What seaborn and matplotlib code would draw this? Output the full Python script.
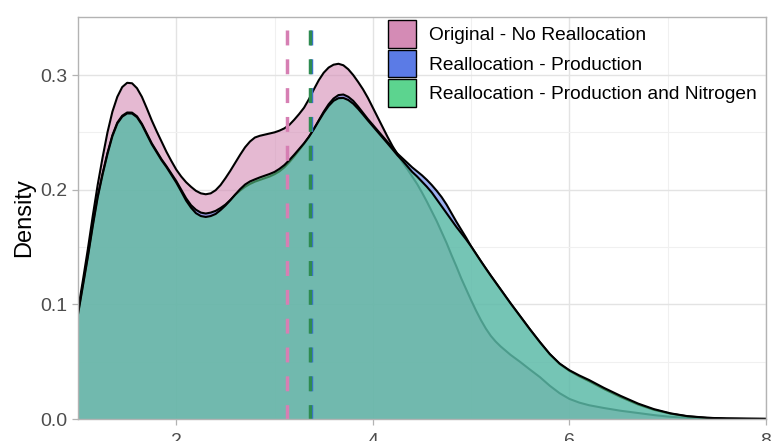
import numpy as np
import pandas as pd
import matplotlib
matplotlib.use("Agg")
import matplotlib.pyplot as plt
from matplotlib.patches import Patch
import seaborn as sns

# ---- data (density estimates on a common x grid) ----
x_grid = [1.00, 1.05, 1.10, 1.15, 1.20, 1.25, 1.30, 1.35, 1.40, 1.45, 1.50, 1.55,
          1.60, 1.65, 1.70, 1.75, 1.80, 1.85, 1.90, 1.95, 2.00, 2.05, 2.10, 2.15,
          2.20, 2.25, 2.30, 2.35, 2.40, 2.45, 2.50, 2.55, 2.60, 2.65, 2.70, 2.75,
          2.80, 2.85, 2.90, 2.95, 3.00, 3.05, 3.10, 3.15, 3.20, 3.25, 3.30, 3.35,
          3.40, 3.45, 3.50, 3.55, 3.60, 3.65, 3.70, 3.75, 3.80, 3.85, 3.90, 3.95,
          4.00, 4.05, 4.10, 4.15, 4.20, 4.25, 4.30, 4.35, 4.40, 4.45, 4.50, 4.55,
          4.60, 4.65, 4.70, 4.75, 4.80, 4.85, 4.90, 4.95, 5.00, 5.05, 5.10, 5.15,
          5.20, 5.25, 5.30, 5.40, 5.50, 5.60, 5.70, 5.80, 5.90, 6.00, 6.10, 6.20,
          6.35, 6.52, 6.70, 6.86, 7.03, 7.20, 7.40, 7.60, 7.80, 8.00]

dens_original = [
    0.0950, 0.1210, 0.1480, 0.1770, 0.2040, 0.2280, 0.2500, 0.2680, 0.2810, 0.2895,
    0.2932, 0.2928, 0.2885, 0.2810, 0.2710, 0.2605, 0.2510, 0.2420, 0.2330, 0.2250,
    0.2175, 0.2115, 0.2065, 0.2025, 0.1990, 0.1968, 0.1960, 0.1968, 0.1995, 0.2040,
    0.2100, 0.2165, 0.2235, 0.2305, 0.2370, 0.2420, 0.2455, 0.2470, 0.2480, 0.2490,
    0.2500, 0.2515, 0.2535, 0.2565, 0.2610, 0.2660, 0.2715, 0.2790, 0.2875, 0.2955,
    0.3020, 0.3065, 0.3090, 0.3098, 0.3085, 0.3050, 0.3000, 0.2940, 0.2875, 0.2800,
    0.2715, 0.2630, 0.2545, 0.2460, 0.2380, 0.2310, 0.2240, 0.2180, 0.2115, 0.2050,
    0.1975, 0.1895, 0.1810, 0.1725, 0.1630, 0.1535, 0.1430, 0.1330, 0.1225, 0.1130,
    0.1035, 0.0945, 0.0862, 0.0788, 0.0725, 0.0675, 0.0633, 0.0560, 0.0497, 0.0430,
    0.0365, 0.0290, 0.0225, 0.0175, 0.0143, 0.0120, 0.0096, 0.0072, 0.0052, 0.0034,
    0.0019, 0.0010, 0.0004, 0.0002, 0.0001, 0.0000]

dens_production = [
    0.0920, 0.1170, 0.1420, 0.1690, 0.1940, 0.2140, 0.2320, 0.2475, 0.2585, 0.2645,
    0.2673, 0.2672, 0.2640, 0.2575, 0.2490, 0.2405, 0.2335, 0.2265, 0.2205, 0.2140,
    0.2075, 0.2000, 0.1925, 0.1865, 0.1825, 0.1800, 0.1792, 0.1800, 0.1815, 0.1840,
    0.1870, 0.1910, 0.1955, 0.1993, 0.2025, 0.2050, 0.2070, 0.2085, 0.2100, 0.2115,
    0.2135, 0.2160, 0.2195, 0.2240, 0.2290, 0.2345, 0.2400, 0.2460, 0.2530, 0.2605,
    0.2680, 0.2745, 0.2795, 0.2825, 0.2830, 0.2810, 0.2775, 0.2725, 0.2670, 0.2615,
    0.2565, 0.2515, 0.2465, 0.2415, 0.2365, 0.2315, 0.2275, 0.2235, 0.2195, 0.2160,
    0.2125, 0.2085, 0.2040, 0.1990, 0.1935, 0.1870, 0.1795, 0.1720, 0.1650, 0.1580,
    0.1505, 0.1440, 0.1375, 0.1312, 0.1250, 0.1190, 0.1130, 0.1010, 0.0895, 0.0780,
    0.0670, 0.0565, 0.0480, 0.0420, 0.0372, 0.0330, 0.0262, 0.0192, 0.0126, 0.0080,
    0.0046, 0.0023, 0.0010, 0.0004, 0.0002, 0.0001]

dens_prod_nitrogen = [
    0.0912, 0.1162, 0.1412, 0.1682, 0.1932, 0.2132, 0.2312, 0.2467, 0.2577, 0.2637,
    0.2665, 0.2664, 0.2632, 0.2567, 0.2482, 0.2397, 0.2327, 0.2257, 0.2197, 0.2130,
    0.2062, 0.1985, 0.1905, 0.1843, 0.1795, 0.1770, 0.1762, 0.1770, 0.1788, 0.1822,
    0.1862, 0.1908, 0.1958, 0.2005, 0.2045, 0.2072, 0.2090, 0.2107, 0.2122, 0.2137,
    0.2155, 0.2182, 0.2215, 0.2258, 0.2305, 0.2355, 0.2405, 0.2462, 0.2528, 0.2600,
    0.2670, 0.2730, 0.2775, 0.2798, 0.2800, 0.2782, 0.2750, 0.2705, 0.2655, 0.2603,
    0.2553, 0.2503, 0.2453, 0.2403, 0.2352, 0.2300, 0.2255, 0.2205, 0.2155, 0.2115,
    0.2070, 0.2025, 0.1975, 0.1915, 0.1855, 0.1795, 0.1735, 0.1675, 0.1620, 0.1565,
    0.1505, 0.1440, 0.1375, 0.1312, 0.1250, 0.1190, 0.1130, 0.1010, 0.0895, 0.0780,
    0.0670, 0.0567, 0.0484, 0.0425, 0.0380, 0.0340, 0.0272, 0.0202, 0.0134, 0.0086,
    0.0049, 0.0025, 0.0011, 0.0004, 0.0002, 0.0001]

series_labels = ["Original - No Reallocation",
                 "Reallocation - Production",
                 "Reallocation - Production and Nitrogen"]
series_means = [3.13, 3.375, 3.365]

x_ticks = [2, 4, 6, 8]
y_ticks = [0.0, 0.1, 0.2, 0.3]
y_tick_labels = ["0.0", "0.1", "0.2", "0.3"]

# ---- styling ----
fill_colors = ["#d48bb5", "#5b7be6", "#5cd48f"]
mean_colors = ["#d67fb3", "#3b6fe0", "#2e8b50"]
ALPHA = 0.6

sns.set_theme(style="whitegrid")
plt.rcParams["font.family"] = ["Liberation Sans", "DejaVu Sans"]

n = len(x_grid)
assert len(dens_original) == n and len(dens_production) == n and len(dens_prod_nitrogen) == n

df = pd.DataFrame({
    "x": x_grid * 3,
    "density": dens_original + dens_production + dens_prod_nitrogen,
    "series": sum([[lab] * n for lab in series_labels], []),
})

fig = plt.figure(figsize=(7.71, 4.41), dpi=100)
ax = fig.add_axes([78 / 771, 22 / 441, 688 / 771, 402 / 441])

# each group: fill then outline, later groups drawn over earlier ones
for k, (lab, col) in enumerate(zip(series_labels, fill_colors)):
    sub = df[df["series"] == lab]
    ax.fill_between(sub["x"], 0, sub["density"], color=col, alpha=ALPHA,
                    linewidth=0, zorder=2 + 2 * k)
    sns.lineplot(data=sub, x="x", y="density", color="black", linewidth=1.5,
                 ax=ax, zorder=3 + 2 * k, legend=False, estimator=None, sort=False)
for ln in ax.lines:
    ln.set_solid_joinstyle("round")

# mean lines (drawn top -> bottom so the dash phase starts at the top)
for i in [1, 2, 0]:
    ax.plot([series_means[i], series_means[i]], [0.339, 0.0], color=mean_colors[i],
            linewidth=2.5, dashes=(4.3, 4.0), zorder=10, dash_capstyle="butt")

ax.set_xlim(1, 8)
ax.set_ylim(0, 0.3506)
ax.set_xticks(x_ticks)
ax.set_xticklabels([str(t) for t in x_ticks])
ax.set_yticks(y_ticks)
ax.set_yticklabels(y_tick_labels)
ax.set_xticks([3, 5, 7], minor=True)
ax.set_yticks([0.05, 0.15, 0.25], minor=True)

ax.grid(which="major", color="#e3e3e3", linewidth=1.0, zorder=0)
ax.grid(which="minor", color="#f0f0f0", linewidth=0.8, zorder=0)
ax.set_axisbelow(True)

for s in ax.spines.values():
    s.set_color("#b3b3b3")
    s.set_linewidth(1.0)
    s.set_zorder(11)

ax.tick_params(axis="both", which="major", length=4.2, width=0.9, color="#b3b3b3",
               labelsize=14, labelcolor="#4d4d4d", bottom=True, left=True)
ax.tick_params(axis="y", which="major", pad=3.5)
ax.tick_params(axis="x", which="major", pad=5.8)
ax.tick_params(axis="both", which="minor", length=0)

ax.set_xlabel("")
ax.set_ylabel("Density", fontsize=17, color="black", labelpad=3.5)

handles = [Patch(facecolor=c, edgecolor="black", linewidth=1.0) for c in fill_colors]
leg = ax.legend(handles, series_labels, loc="upper left",
                bbox_to_anchor=(310 / 688, 1 - 3 / 402), frameon=False,
                fontsize=13.75, handlelength=1.466, handleheight=1.86,
                labelspacing=0.1, handletextpad=0.66, borderpad=0.0,
                borderaxespad=0.0, labelcolor="black")
leg.set_zorder(12)

fig.savefig("out.png", dpi=100)
